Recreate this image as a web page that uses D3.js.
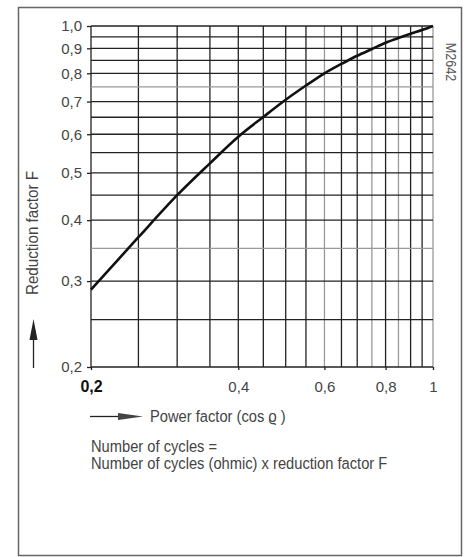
<!DOCTYPE html>
<html>
  <head>
    <meta charset="utf-8">
    <script src="https://d3js.org/d3.v7.min.js"></script>
    <style>
      body { margin: 0; background: #fff; }
      text { font-family: "Liberation Sans", Arial, sans-serif; fill: #333; }
    </style>
  </head>

  <body>
    <script type="text/javascript">
      // power factor (x) vs reduction factor F (y)
      var powerFactor = [0.2, 0.25, 0.3, 0.35, 0.4, 0.45, 0.5, 0.55, 0.6, 0.65, 0.7, 0.75, 0.8, 0.85, 0.9, 0.95, 1.0];
      var reduction   = [0.288, 0.369, 0.45, 0.523, 0.593, 0.651, 0.706, 0.755, 0.80, 0.836, 0.869, 0.897, 0.924, 0.945, 0.964, 0.981, 1.0];

      var xGrid = [0.2, 0.25, 0.3, 0.35, 0.4, 0.45, 0.5, 0.55, 0.6, 0.65, 0.7, 0.75, 0.8, 0.85, 0.9, 0.95, 1.0];
      var yGrid = [0.2, 0.25, 0.3, 0.35, 0.4, 0.45, 0.5, 0.55, 0.6, 0.65, 0.7, 0.75, 0.8, 0.85, 0.9, 0.95, 1.0];
      var xLight = [0.6, 0.75, 0.85];
      var yLight = [0.35, 0.75];

      var xTicks = [0.2, 0.4, 0.6, 0.8, 1];
      var xTickLabels = ["0,2", "0,4", "0,6", "0,8", "1"];
      var yTicks = [0.2, 0.3, 0.4, 0.5, 0.6, 0.7, 0.8, 0.9, 1.0];
      var yTickLabels = ["0,2", "0,3", "0,4", "0,5", "0,6", "0,7", "0,8", "0,9", "1,0"];

      var w = 469, h = 557;
      var plotL = 91, plotR = 433, plotT = 26, plotB = 367;

      var x = d3.scaleLog().domain([0.2, 1]).range([plotL, plotR]);
      var y = d3.scaleLog().domain([0.2, 1]).range([plotB, plotT]);

      var svg = d3.select("body").append("svg")
        .attr("width", w)
        .attr("height", h);

      // outer frame
      svg.append("rect")
        .attr("x", 18.5).attr("y", 7.5)
        .attr("width", 443).attr("height", 548)
        .attr("fill", "none")
        .attr("stroke", "#666")
        .attr("stroke-width", 1.5);

//grid
      svg.append("g").selectAll("line").data(xGrid).enter().append("line")
        .attr("x1", d => x(d)).attr("x2", d => x(d))
        .attr("y1", plotT).attr("y2", plotB)
        .attr("stroke", d => xLight.indexOf(d) >= 0 || d == 1 ? "#999" : "#222")
        .attr("stroke-width", 1.3);

      svg.append("g").selectAll("line").data(yGrid).enter().append("line")
        .attr("x1", plotL).attr("x2", plotR)
        .attr("y1", d => y(d)).attr("y2", d => y(d))
        .attr("stroke", d => yLight.indexOf(d) >= 0 ? "#999" : "#222")
        .attr("stroke-width", 1.3);

//axes
      var yAxis = d3.axisLeft(y).tickValues(yTicks)
        .tickFormat((d, i) => yTickLabels[i]).tickSize(4).tickPadding(5);
      var gy = svg.append("g").attr("transform", "translate(" + plotL + ",0)").call(yAxis);
      gy.select(".domain").remove();
      gy.selectAll("line").attr("stroke", "#222").attr("stroke-width", 1.3);
      gy.selectAll("text").attr("font-size", 15).attr("font-family", null).style("fill", "#444");

      var xAxis = d3.axisBottom(x).tickValues(xTicks)
        .tickFormat((d, i) => xTickLabels[i]).tickSize(3).tickPadding(11);
      var gx = svg.append("g").attr("transform", "translate(0," + plotB + ")").call(xAxis);
      gx.select(".domain").remove();
      gx.selectAll("line").attr("stroke", "#222").attr("stroke-width", 1.3);
      gx.selectAll("text").attr("font-family", null)
        .attr("font-size", (d, i) => i == 0 ? 16 : 15)
        .attr("font-weight", (d, i) => i == 0 ? "bold" : null)
        .style("fill", (d, i) => i == 0 ? "#111" : "#444");

//curve
      var line = d3.line()
        .x(d => x(d[0]))
        .y(d => y(d[1]))
        .curve(d3.curveCatmullRom.alpha(0.5));

      svg.append("path").datum(d3.zip(powerFactor, reduction))
        .attr("fill", "none")
        .attr("stroke", "#111")
        .attr("stroke-width", 2.6)
        .attr("d", line);

//y title and arrow
      svg.append("text")
        .attr("transform", "translate(38,233) rotate(-90) scale(0.95,1)")
        .attr("text-anchor", "middle")
        .attr("font-size", 16)
        .style("fill", "#444")
        .text("Reduction factor F");

      svg.append("line")
        .attr("x1", 33.5).attr("x2", 33.5)
        .attr("y1", 368).attr("y2", 335)
        .attr("stroke", "#222").attr("stroke-width", 1.3);
      svg.append("path")
        .attr("d", "M33.5,319 L37.5,340 L29.5,340 Z")
        .attr("fill", "#222");

//x title and arrow
      svg.append("line")
        .attr("x1", 90).attr("x2", 122)
        .attr("y1", 416.5).attr("y2", 416.5)
        .attr("stroke", "#222").attr("stroke-width", 1.3);
      svg.append("path")
        .attr("d", "M143,416.5 L118,413 L118,420 Z")
        .attr("fill", "#444");

      function note(tx, ty, str) {
        svg.append("text")
          .attr("transform", "translate(" + tx + "," + ty + ") scale(0.865,1)")
          .attr("font-size", 17)
          .style("fill", "#444")
          .text(str);
      }
      note(150, 422, "Power factor (cos \u03F1 )");
      note(91, 452, "Number of cycles =");
      note(91, 469, "Number of cycles (ohmic) x reduction factor F");

//drawing number
      svg.append("text")
        .attr("transform", "translate(446,62) rotate(90) scale(0.9,1)")
        .attr("text-anchor", "middle")
        .attr("font-size", 14)
        .style("fill", "#555")
        .text("M2642");
    </script>
  </body>
</html>
